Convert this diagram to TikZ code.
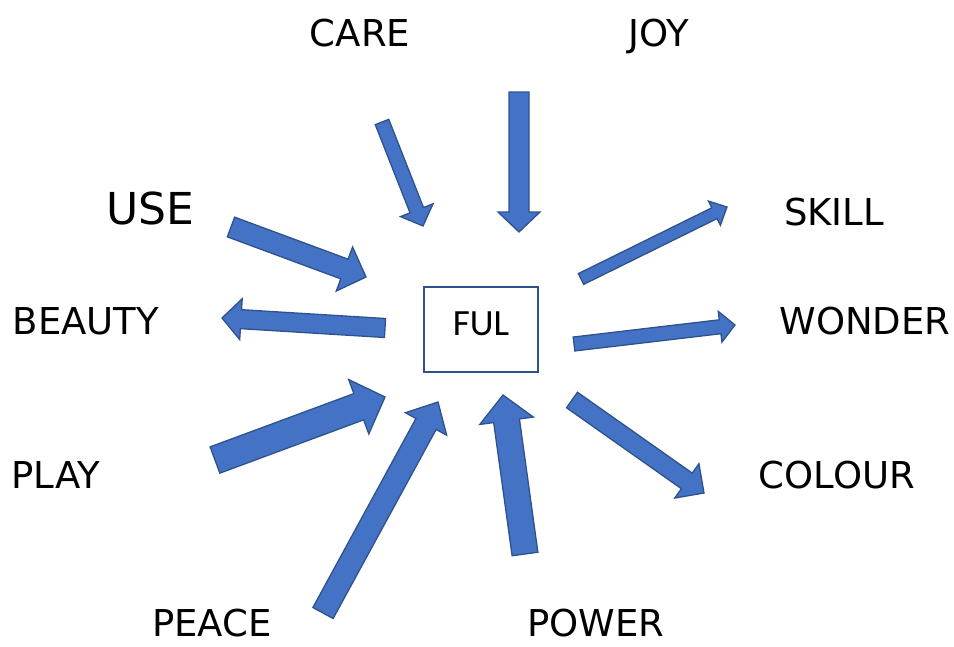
\documentclass[tikz,border=0pt]{standalone}
\usepackage{xcolor}
\usepackage{fontspec}
\setmainfont{DejaVu Sans}
\newfontfamily\fulfont{Carlito}
\usepackage{tikz}
\usetikzlibrary{calc, positioning}

\definecolor{arrowfill}{HTML}{4472C4}
\definecolor{arrowline}{HTML}{2F528F}

% block arrow: tail, tip, half shaft, half head, head length
\newcommand{\blockarrow}[5]{%
    \coordinate (hb) at ($(#2)!#5!(#1)$);
    \filldraw[fatarrow] ($(#1)!#3!90:(#2)$) -- ($(hb)!#3!90:(#2)$) -- ($(hb)!#4!90:(#2)$)
        -- (#2) -- ($(hb)!#4!-90:(#2)$) -- ($(hb)!#3!-90:(#2)$) -- ($(#1)!#3!-90:(#2)$) -- cycle;
}

\begin{document}
\begin{tikzpicture}[x=1pt, y=-1pt,
    fatarrow/.style={fill=arrowfill, draw=arrowline, line width=1.3pt, line join=miter},
    word/.style={anchor=base, inner sep=0pt, font=\fontsize{37}{40}\selectfont},
    centrebox/.style={draw=arrowline, line width=1.5pt, minimum width=114pt, minimum height=85pt,
        text height=23pt, text depth=12pt, font=\fulfont\fontsize{37}{40}\selectfont}]
    \useasboundingbox (0,0) rectangle (954,646);

    \node[centrebox] (ful) at (481,329.5) {FUL};

    \node[word] (care) at (360,46) {CARE};
    \node[word] (joy) at (659,46) {JOY};
    \node[word, font=\fontsize{44}{48}\selectfont] (use) at (150,224) {USE};
    \node[word] (skill) at (834,225) {SKILL};
    \node[word] (beauty) at (86,334) {BEAUTY};
    \node[word] (wonder) at (865,334) {WONDER};
    \node[word] (play) at (56,488) {PLAY};
    \node[word] (colour) at (837,488) {COLOUR};
    \node[word] (peace) at (212,636) {PEACE};
    \node[word] (power) at (596,636) {POWER};

    % arrow ends
    \coordinate (care-s) at (382,122);   \coordinate (care-e) at (423,226);
    \coordinate (joy-s) at (519,92);     \coordinate (joy-e) at (519,232);
    \coordinate (use-s) at (231,227);    \coordinate (use-e) at (366,277);
    \coordinate (beauty-s) at (385,328); \coordinate (beauty-e) at (222,318);
    \coordinate (play-s) at (215,460);   \coordinate (play-e) at (385,397);
    \coordinate (peace-s) at (323,613);  \coordinate (peace-e) at (438,402);
    \coordinate (power-s) at (525,554);  \coordinate (power-e) at (503,395);
    \coordinate (skill-s) at (581,279);  \coordinate (skill-e) at (727,207);
    \coordinate (wonder-s) at (574,344); \coordinate (wonder-e) at (735,325);
    \coordinate (colour-s) at (572,400); \coordinate (colour-e) at (704,493);

    \blockarrow{care-s}{care-e}{7.25pt}{17.5pt}{17pt}
    \blockarrow{joy-s}{joy-e}{10pt}{21pt}{20pt}
    \blockarrow{use-s}{use-e}{10.5pt}{23.5pt}{23pt}
    \blockarrow{beauty-s}{beauty-e}{9.5pt}{20.5pt}{19pt}
    \blockarrow{play-s}{play-e}{14pt}{29pt}{28pt}
    \blockarrow{peace-s}{peace-e}{11.5pt}{23.5pt}{25pt}
    \blockarrow{power-s}{power-e}{13pt}{27pt}{26pt}
    \blockarrow{skill-s}{skill-e}{6pt}{13.5pt}{14pt}
    \blockarrow{wonder-s}{wonder-e}{7pt}{15.5pt}{15pt}
    \blockarrow{colour-s}{colour-e}{9.5pt}{21pt}{21pt}
\end{tikzpicture}
\end{document}
